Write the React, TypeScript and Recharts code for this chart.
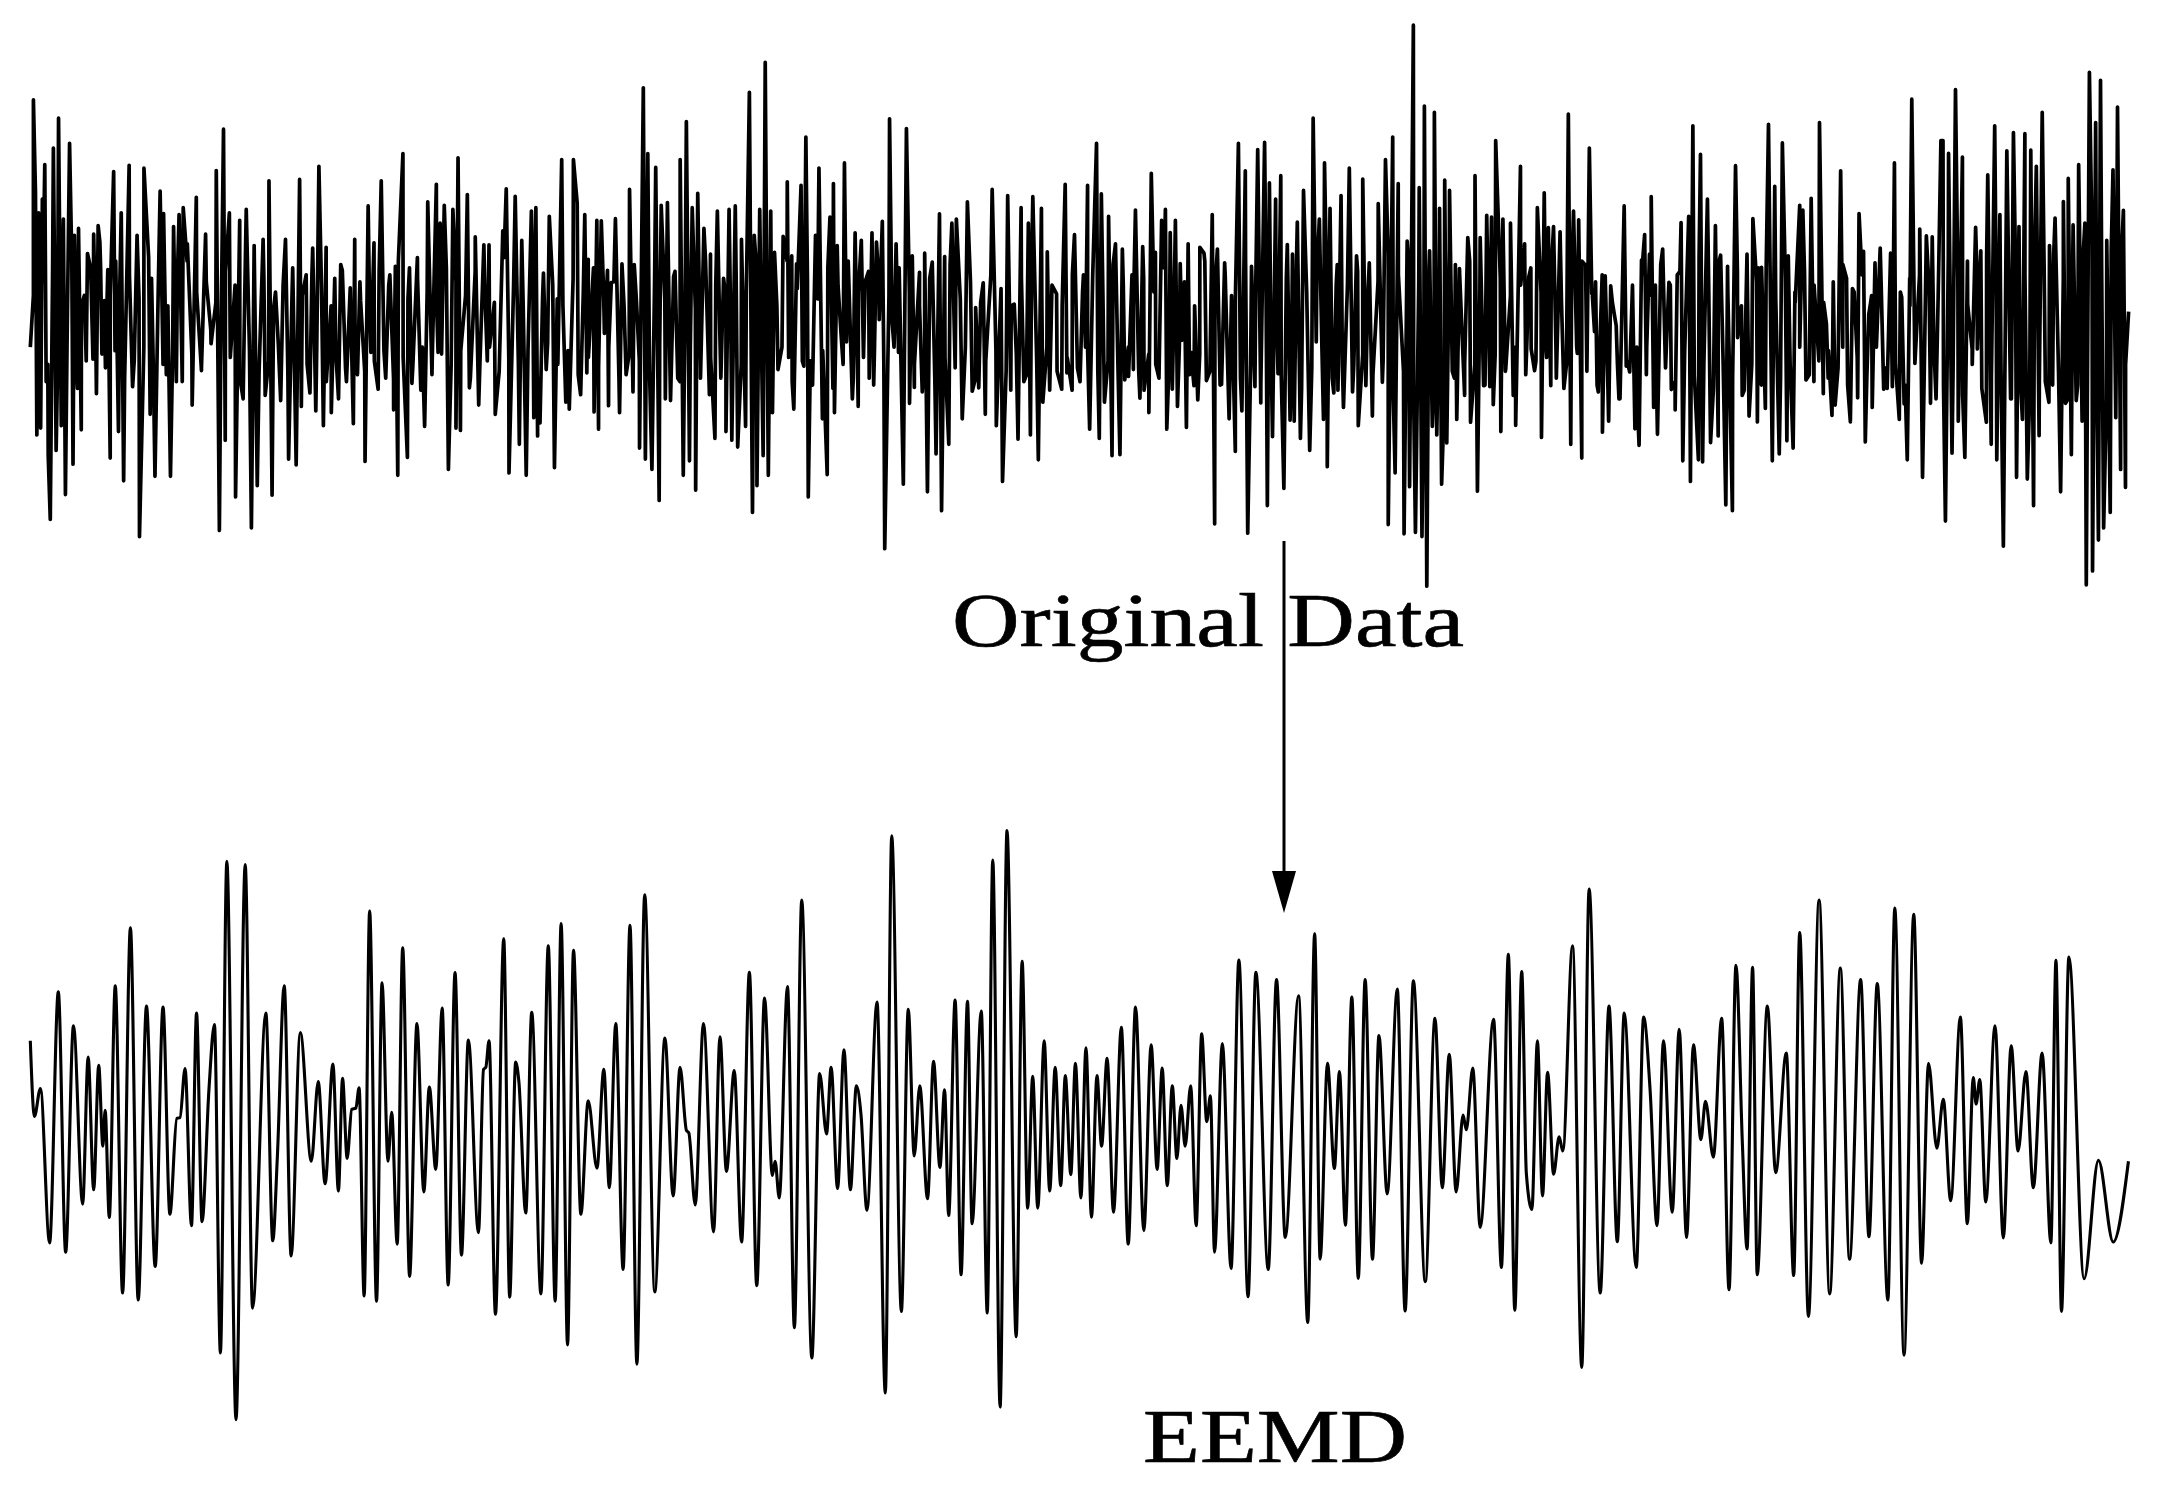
import React from "react";
import { LineChart, Line, XAxis, YAxis } from "recharts";

// Pairs of [position within the crop, depth]
const originalA = [88,950,97,232,103,500,107,1205,112,560,118,1185,123,520,130,420,134,1050,140,1265,146,1450,155,372,163,1250,170,285,178,1178,184,578,190,1378,202,358,212,1290,216,625,225,1070,228,605,236,1190,245,800,254,678,262,715,270,985,272,622,280,1085,285,597,290,645,296,970,303,815,313,725,320,1272,330,440,336,700,344,1195,352,560,359,1338,375,422,385,1065,398,625,405,1500,418,430,436,1145,440,750,450,1325,465,497,475,562,483,1030,495,1325,504,600,512,1050,520,565,528,980,532,545,544,650,558,1118,570,515,585,1018,597,622,612,898,628,437,637,1482,649,317,654,1220,666,560,684,1385,696,582,706,1100,715,550,730,1475,738,655,747,1352,764,637,770,1090,781,467,790,1380,800,790,815,1105,829,637,838,1275,848,797,860,1292,870,463,875,1122,889,740,900,1083,908,662,917,1135,926,425,939,1178,947,660,962,1140,972,750,983,1100,994,727,1006,1050,1017,778,1026,1172,1030,637,1038,1030,1047,815,1060,1282,1069,540,1077,965,1086,647,1098,1072,1107,467,1120,1040,1132,740,1143,1132,1148,715,1155,1322,1170,388,1183,1270,1189,720,1196,1055,1212,690,1222,1075,1233,1180,1242,528,1255,988,1267,477,1272,965,1278,590,1290,538,1302,1305,1315,550,1324,1185,1330,400,1337,1192,1357,507,1363,1068,1380,630,1390,1118,1405,653,1415,990,1420,653,1438,1145,1460,612,1470,490,1478,1315,1496,512,1508,1232,1515,640,1528,1322,1543,555,1550,1155,1556,545,1561,1208];
const originalB = [0,1170,10,735,18,1015,27,570,42,1300,50,810,63,405,75,1110,85,1130,97,405,108,532,118,1088,130,565,136,1025,140,695,157,1138,165,582,170,1188,178,583,187,910,196,727,199,1120,207,762,219,577,231,1140,238,708,250,1030,260,492,270,1080,280,815,289,1243,300,197,306,1275,313,388,325,1305,336,428,346,1395,352,538,364,1100,370,530,379,1105,388,745,400,1040,407,405,416,1322,425,295,434,1280,442,545,452,1365,458,503,466,1040,476,605,492,1088,495,680,508,1215,515,555,522,900,533,750,540,1195,549,550,557,1220,567,540,574,1240,585,637,597,1180,608,210,617,1430,622,625,630,1352,638,550,648,1265,654,123,663,1322,670,555,675,1140,681,675,691,1015,706,628,718,470,722,980,731,685,737,1130,745,708,758,480,766,1005,772,340,779,1385,785,990,800,625,810,430,820,1158,834,1320,842,572,852,475,855,1140,863,655,875,925,884,415,890,935,907,1100,915,618,924,1122,933,640,944,760,956,1040,964,618,971,965,977,645,985,870,994,585,1001,1535,1015,287,1022,870,1034,650,1041,965,1055,1348,1064,315,1073,1113,1081,685,1087,1067,1102,733,1110,1080,1117,677,1125,1370,1139,703,1150,1260,1160,563,1166,1425,1175,687,1187,1232,1196,590,1209,578,1226,1158,1241,528,1255,1078,1265,835,1274,1068,1287,763,1293,1145,1313,492,1325,1178,1343,1340,1358,510,1367,1075,1377,825,1388,1217,1397,545,1405,1050,1418,590,1424,1205,1431,513,1447,1277,1456,547,1460,1110,1473,673,1480,1075,1500,795,1515,1072,1525,477,1530,1025,1545,1075,1552,623,1568,1050];
const originalC = [10,740,16,950,22,480,28,1188,48,358,56,1215,62,505,71,1110,83,570,93,1265,103,650,116,1262,123,665,130,1045,141,1035,151,740,155,1015,161,552,174,1098,182,658,186,1075,200,1140,207,445,219,675,220,1000,237,582,248,550,252,1188,262,617,268,1072,277,582,283,1122,291,707,296,930,309,1183,314,650,322,965,331,1062,342,1103,348,660,360,677,367,1047,384,565,391,1463,399,665,411,1058,420,705,433,1158,440,800,451,1253,460,358,470,1135,480,438,487,1490,498,715,508,1065,516,376,525,1112,536,355,544,1410,550,473,559,1210,568,520,575,1027,583,452,592,1360,602,652,610,1162,617,680,622,1165,631,587,640,1215,649,495,667,1250,677,285,686,935,695,578,707,1160,710,415,718,1297,726,547,737,1083,744,768,749,1075,758,510,765,1125,782,430,795,1003,803,685,808,1178,821,462,830,1062,840,705,849,1150,866,533,878,1052,887,405,895,1465,908,340,915,1315,924,475,941,1492,950,642,957,1355,968,15,974,1488,985,487,993,1500,1000,250,1007,1644,1015,670,1023,1180,1029,268,1036,1205,1044,547,1050,1348,1059,465,1065,1228,1073,495,1081,1020,1090,710,1094,1160,1102,722,1117,998,1126,632,1134,1168,1147,452,1154,1368,1162,632,1172,1062,1181,567,1190,1065,1195,572,1200,1117,1207,350,1222,1195,1228,578,1236,1015,1250,590,1258,1090,1265,1177,1279,425,1291,650,1298,925,1303,747,1310,955,1320,1018,1328,545,1340,1212,1348,502,1355,980,1360,603,1367,1062,1375,600,1382,950,1394,615,1405,1070,1418,273,1425,1232,1433,555,1444,968,1448,580,1457,1272,1468,712,1479,372,1486,795,1494,905,1497,760,1505,1080,1517,1197,1525,743,1535,1165,1541,772,1557,888,1565,1100];
const originalD = [0,1100,12,540,18,1005,28,1022,36,770,43,1187,49,1085,55,1235,62,697,71,623,77,950,85,680,90,513,97,1125,102,770,108,1203,123,665,130,965,141,762,148,1073,159,1132,165,740,176,588,181,1280,198,570,203,1340,210,307,226,1277,232,390,238,1283,252,520,261,1227,275,597,283,1208,290,683,305,1408,310,715,324,1425,333,423,339,922,350,830,358,1075,372,1150,383,577,396,1167,399,720,408,718,419,1128,428,303,439,1280,446,483,459,1260,468,357,481,1222,485,685,499,1243,505,820,518,538,527,552,536,1045,551,518,559,1050,575,298,586,1085,595,883,600,1040,611,1148,620,1118,636,438,642,950,653,750,664,1167,675,790,685,1097,689,562,702,672,707,1225,717,855,722,823,727,1125,735,705,750,662,760,1072,770,1070,780,677,785,1065,791,415,805,1160,812,805,819,1115,828,1277,835,750,841,230,850,997,864,607,872,1328,883,627,895,1113,900,630,911,1100,917,805,925,350,931,350,938,1455,947,387,957,1258,967,202,975,1165,987,398,994,1270,1002,825,1015,955,1025,602,1030,955,1040,670,1056,1168,1060,450,1070,1232,1080,307,1086,1277,1095,565,1105,1528,1115,380,1128,1100,1134,327,1143,1328,1150,600,1160,1160,1167,330,1174,1333,1184,378,1192,1410,1200,425,1208,1207,1217,268,1226,1050,1238,655,1247,1060,1254,575,1270,1370,1278,527,1284,1113,1292,460,1301,1262,1306,595,1315,1105,1322,420,1332,1165,1340,590,1344,1640,1353,152,1362,1600,1371,298,1379,1510,1385,175,1394,1475,1403,640,1413,1430,1421,435,1429,1155,1434,253,1443,1305,1451,553,1457,1357,1466,847];

// Smaller swings inside the dark central band, evenly spaced across each crop
const innerA = [800,980,760,1000,720,1040,790,950,700,1020,830,990,760,930,720,1010,800,960,770,1040,740,990,810,950,690,1030,780,1000,830,960,740,1050,700,970,790,1010,760,940,820,1000,730,980,770,1040,810,960,690,1020,750,990,840,940,770,1030,720,980,800,1000,740,960,780,1050,830,970,710,1010,790,950,760,1020,820,990,730,960,770,1040,700,980,810,1010,750,950,790,1030,840,970,720,1000,760,960,800,1040,730,990,780,950,820,1020,690,980,770,1000,830,960,740,1040];
const innerB = [810,940,770,1000,830,960,750,1030,790,980,720,1010,800,950,760,1040,830,970,710,990,780,1020,750,940,810,1000,730,1050,790,960,840,1010,700,980,770,1040,810,950,740,1000,790,1060,720,970,760,1020,830,950,700,1050,780,990,750,1060,810,960,720,1070,770,1000,700,1040,790,980,730,1060,760,1010,800,950,720,1030,790,1000,830,960,750,1040,770,980,710,1010,810,950,760,1040,820,990,740,960,780,1020,830,970,750,1030,700,990,800,950,770,1020,830,980,740,1010];
const innerC = [790,960,740,1020,800,990,710,1040,770,950,830,1010,750,970,790,1040,720,990,800,950,760,1030,830,970,700,1020,780,1060,740,980,810,1040,690,1000,770,1060,730,960,800,1030,750,990,700,1070,790,1010,740,960,820,1040,710,1000,770,1080,730,970,800,1030,760,990,680,1090,740,1020,700,1100,760,980,720,1060,790,1110,670,1040,730,1090,700,1000,780,1060,830,970,750,1020,800,950,770,1030,720,990,790,960,740,1040,810,1000,760,950,700,1020,780,1060,740,980,820,1000];
const innerD = [780,990,820,950,740,1030,800,970,710,1010,770,1050,730,960,800,1030,690,1000,760,1070,710,980,790,1040,730,1090,680,1000,760,1060,720,960,810,1040,750,1000,790,950,730,1030,770,990,820,960,760,1010,710,1060,780,980,740,1040,800,950,770,1010,720,1000,790,1060,830,970,740,1010,780,950,720,1060,690,1020,760,1090,700,1000,740,1070,690,1040,770,1010,730,1100,680,1030,740,1080,670,1050,720,1110,680,1020,750,1100,660,1060,720,1130,650,1040,710,1100,670,1060,730,1000];

const eemdA = [66,590,75,775,88,707,108,1085,127,470,143,1108,160,553,180,990,192,630,204,955,215,650,224,848,229,760,238,1023,251,455,267,1208,284,313,301,1225,319,505,338,1143,355,507,370,1015,385,780,392,778,403,658,417,1043,428,522,440,1033,455,710,467,550,480,1355,494,150,514,1518,534,158,550,1245,579,522,594,1080,604,875,619,455,634,1117,654,570,678,885,693,690,708,940,725,647,737,958,746,682,756,878,766,758,775,755,782,705,793,1215,805,272,820,1228,832,448,845,885,853,765,865,1088,877,362,892,1167,908,548,923,960,935,703,949,905,963,510,976,1188,991,423,1005,1115,1020,588,1042,1060,1053,660,1058,655,1065,590,1079,1260,1097,340,1110,1218,1123,642,1130,690,1145,1012,1158,520,1178,1210,1194,357,1209,1228,1222,303,1236,1335,1249,368,1265,1015,1281,737,1300,902,1315,660,1327,950,1341,548,1357,1150,1372,307,1387,1382,1404,232,1426,1205,1448,583,1466,970,1481,655,1495,810,1500,815,1514,992,1532,548,1554,1058];
const eemdB = [0,580,14,910,31,663,47,1083,64,422,80,1190,97,485,114,920,120,885,129,975,147,457,162,1293,178,245,200,1367,217,670,232,818,242,655,256,952,270,612,284,955,297,700,307,770,320,1005,342,495,360,1453,374,88,395,1253,410,513,423,872,435,700,452,977,465,640,479,900,489,710,498,1018,512,490,525,1163,539,493,549,1038,569,517,582,1257,594,147,610,1487,625,75,645,1315,658,395,670,1000,681,677,692,1000,706,590,718,958,730,655,742,945,752,675,764,918,774,645,786,975,797,607,809,1022,821,675,831,848,843,633,857,1010,874,557,889,1088,905,507,923,1055,939,600,952,905,963,657,974,945,985,700,995,878,1004,748,1013,848,1025,700,1037,1043,1049,573,1060,788,1068,725,1077,1108,1094,597,1113,1148,1130,392,1150,1217,1167,422,1194,1150,1212,440,1231,1072,1260,480,1280,1280,1295,328,1307,1125,1323,645,1338,903,1349,665,1362,1042,1376,483,1390,1172,1405,440,1421,1125,1435,577,1453,965,1475,463,1492,1252,1510,443,1536,1180,1557,535];
const eemdC = [5,950,20,623,35,960,50,772,57,808,71,657,87,1047,116,537,133,1145,148,378,162,1250,177,420,187,915,199,1003,211,590,222,970,233,667,246,917,258,825,266,860,287,357,307,1390,323,218,347,1208,366,505,384,1082,399,522,425,1145,441,532,455,710,470,1043,484,590,503,1010,518,562,534,1072,549,600,565,832,575,738,592,875,610,535,626,1200,641,405,655,845,665,1100,677,410,687,1163,709,505,727,913,750,620,766,1165,779,325,798,1265,821,245,844,1210,867,412,887,1125,911,440,929,1070,947,450,970,1225,985,265,1005,1360,1026,280,1043,1135,1058,645,1076,853,1090,733,1106,982,1127,532,1142,1038,1155,680,1161,745,1169,685,1182,985,1202,553,1220,1073,1237,602,1252,860,1269,665,1285,950,1304,620,1323,1085,1334,393,1346,1253,1362,385,1395,1173,1426,883,1458,1083,1491,885];

const originalTitle = "Original Data";
const eemdTitle = "EEMD";

const CROP = 1568;
const WIDTH = 2164;
const HEIGHT = 1485;

function build(pairs: number[], start: number, span: number) {
  const out: { t: number; v: number }[] = [];
  for (let i = 0; i < pairs.length; i += 2) {
    out.push({ t: start + (pairs[i] * span) / CROP, v: pairs[i + 1] });
  }
  return out;
}

// Inner samples sit evenly between the first and last readings of their crop.
function buildInner(values: number[], first: number, last: number) {
  return values.map((v, i) => ({ t: first + ((i + 0.5) * (last - first)) / values.length, v }));
}

const originalSeries = [
  ...build(originalA, 0, 540),
  ...build(originalB, 540, 540),
  ...build(originalC, 1080, 540),
  ...build(originalD, 1620, 544),
  ...buildInner(innerA, 31, 540),
  ...buildInner(innerB, 540, 1080),
  ...buildInner(innerC, 1080, 1620),
  ...buildInner(innerD, 1620, 2128),
].sort((a, b) => a.t - b.t);

const eemdSeries = [
  ...build(eemdA, 0, 720),
  ...build(eemdB, 720, 720),
  ...build(eemdC, 1440, 724),
].sort((a, b) => a.t - b.t);

const FONT = '"Liberation Serif", "Times New Roman", serif';

export default function App() {
  return (
    <div style={{ position: "absolute", left: 0, top: 0, width: WIDTH, height: HEIGHT, background: "#fff" }}>
      <LineChart width={WIDTH} height={HEIGHT} margin={{ top: 0, right: 0, bottom: 0, left: 0 }}>
        <XAxis dataKey="t" type="number" domain={[0, WIDTH]} hide allowDataOverflow />
        <YAxis yAxisId="orig" type="number" domain={[-58.07, 4253.9]} reversed hide allowDataOverflow />
        <YAxis yAxisId="eemd" type="number" domain={[-1960, 1678.25]} reversed hide allowDataOverflow />
        <Line yAxisId="orig" data={originalSeries} dataKey="v" type="linear" stroke="#000" strokeWidth={3.7} strokeLinejoin="round" dot={false} isAnimationActive={false} />
        <Line yAxisId="eemd" data={eemdSeries} dataKey="v" type="monotone" stroke="#000" strokeWidth={3.1} strokeLinejoin="round" dot={false} isAnimationActive={false} />
      </LineChart>
      <svg width={WIDTH} height={HEIGHT} style={{ position: "absolute", left: 0, top: 0 }}>
        <line x1={1284} y1={541} x2={1284} y2={880} stroke="#000" strokeWidth={3} />
        <polygon points="1272,871 1296,871 1284,913" fill="#000" />
        <text x={952} y={646} fontFamily={FONT} fontSize={76} fill="#000" stroke="#000" strokeWidth={0.6} textLength={512} lengthAdjust="spacingAndGlyphs">{originalTitle}</text>
        <text x={1143} y={1462} fontFamily={FONT} fontSize={76} fill="#000" stroke="#000" strokeWidth={0.6} textLength={264} lengthAdjust="spacingAndGlyphs">{eemdTitle}</text>
      </svg>
    </div>
  );
}
